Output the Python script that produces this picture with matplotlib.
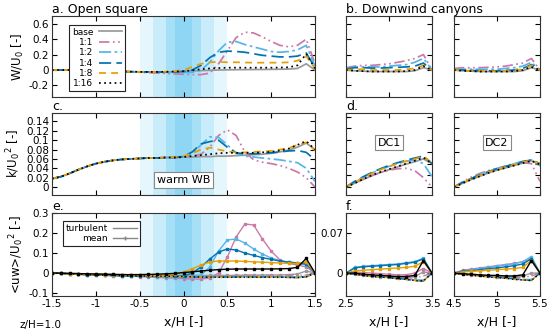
import matplotlib
matplotlib.use('Agg')

import matplotlib.pyplot as plt
from matplotlib.lines import Line2D
from matplotlib.ticker import FuncFormatter

plt.rcParams['font.family'] = ['DejaVu Sans']
plt.rcParams['axes.unicode_minus'] = False

# Cases and their styles
CASES = ['base', '1:1', '1:2', '1:4', '1:8', '1:16']

# x positions of the profiles
X_MAIN = [-1.5, -1.4, -1.3, -1.2, -1.1, -1.0, -0.9, -0.8, -0.7, -0.6, -0.5,
          -0.4, -0.3, -0.2, -0.1, 0.0, 0.1, 0.2, 0.3, 0.4, 0.5,
          0.6, 0.7, 0.8, 0.9, 1.0, 1.1, 1.2, 1.3, 1.4, 1.5]
X_DC1 = [2.5, 2.6, 2.7, 2.8, 2.9, 3.0, 3.1, 3.2, 3.3, 3.4, 3.5]
X_DC2 = [4.5, 4.6, 4.7, 4.8, 4.9, 5.0, 5.1, 5.2, 5.3, 5.4, 5.5]

# a. vertical velocity W/U0, open square
W_MAIN = {
    'base': [0.0, 0.0, 0.0, -0.005, -0.01, -0.012, -0.015, -0.018, -0.02, -0.022, -0.024,
             -0.025, -0.025, -0.025, -0.022, -0.018, -0.012, -0.008, -0.004, 0.0, 0.002,
             0.004, 0.005, 0.006, 0.007, 0.008, 0.01, 0.012, 0.02, 0.08, 0.0],
    '1:1': [0.0, 0.0, 0.0, -0.005, -0.01, -0.012, -0.015, -0.018, -0.02, -0.025, -0.03,
            -0.035, -0.04, -0.045, -0.05, -0.055, -0.06, -0.06, -0.04, 0.08, 0.25,
            0.42, 0.49, 0.48, 0.43, 0.37, 0.32, 0.30, 0.32, 0.40, 0.08],
    '1:2': [0.0, 0.0, 0.0, -0.005, -0.01, -0.012, -0.015, -0.018, -0.02, -0.022, -0.024,
            -0.026, -0.028, -0.03, -0.03, -0.03, -0.03, 0.0, 0.10, 0.25, 0.36,
            0.37, 0.33, 0.30, 0.27, 0.24, 0.23, 0.24, 0.26, 0.32, 0.05],
    '1:4': [0.0, 0.0, 0.0, -0.005, -0.01, -0.012, -0.015, -0.018, -0.02, -0.022, -0.024,
            -0.025, -0.026, -0.027, -0.025, -0.02, 0.0, 0.06, 0.16, 0.23, 0.245,
            0.24, 0.23, 0.21, 0.19, 0.18, 0.17, 0.17, 0.18, 0.22, 0.03],
    '1:8': [0.0, 0.0, 0.0, -0.005, -0.01, -0.012, -0.015, -0.018, -0.02, -0.022, -0.024,
            -0.025, -0.025, -0.022, -0.015, 0.0, 0.04, 0.08, 0.10, 0.105, 0.10,
            0.10, 0.097, 0.095, 0.095, 0.095, 0.095, 0.10, 0.12, 0.18, 0.02],
    '1:16': [0.0, 0.0, 0.0, -0.005, -0.01, -0.012, -0.015, -0.018, -0.02, -0.022, -0.024,
             -0.025, -0.025, -0.024, -0.02, -0.015, -0.005, 0.01, 0.02, 0.025, 0.03,
             0.03, 0.03, 0.03, 0.03, 0.03, 0.032, 0.035, 0.06, 0.21, 0.02],
}
W_DC1 = {
    'base': [0.0, -0.01, -0.015, -0.02, -0.02, -0.02, -0.02, -0.02, -0.01, 0.03, 0.0],
    '1:1': [0.03, 0.05, 0.06, 0.06, 0.07, 0.08, 0.10, 0.12, 0.15, 0.20, 0.0],
    '1:2': [0.02, 0.04, 0.04, 0.04, 0.04, 0.05, 0.06, 0.07, 0.10, 0.15, 0.0],
    '1:4': [0.01, 0.03, 0.03, 0.025, 0.025, 0.03, 0.035, 0.04, 0.05, 0.09, 0.0],
    '1:8': [0.0, 0.01, 0.01, 0.0, 0.0, 0.0, 0.0, 0.01, 0.02, 0.06, 0.0],
    '1:16': [0.0, -0.01, -0.015, -0.02, -0.02, -0.02, -0.02, -0.015, 0.0, 0.05, 0.0],
}
W_DC2 = {
    'base': [0.0, -0.01, -0.015, -0.02, -0.02, -0.02, -0.02, -0.02, -0.01, 0.03, 0.0],
    '1:1': [0.02, 0.03, 0.03, 0.03, 0.035, 0.04, 0.05, 0.07, 0.09, 0.15, 0.0],
    '1:2': [0.01, 0.01, 0.01, 0.01, 0.01, 0.01, 0.02, 0.03, 0.05, 0.10, 0.0],
    '1:4': [0.0, 0.0, -0.005, -0.01, -0.01, -0.01, -0.005, 0.0, 0.02, 0.07, 0.0],
    '1:8': [0.0, -0.005, -0.01, -0.01, -0.015, -0.015, -0.01, -0.005, 0.01, 0.06, 0.0],
    '1:16': [0.0, -0.01, -0.015, -0.02, -0.02, -0.02, -0.02, -0.015, 0.0, 0.04, 0.0],
}

# c. turbulent kinetic energy k/U0^2
K_MAIN = {
    'base': [0.018, 0.022, 0.029, 0.037, 0.044, 0.050, 0.054, 0.057, 0.059, 0.060, 0.061,
             0.062, 0.062, 0.063, 0.063, 0.064, 0.064, 0.065, 0.065, 0.066, 0.066,
             0.067, 0.068, 0.069, 0.070, 0.072, 0.075, 0.079, 0.085, 0.094, 0.080],
    '1:1': [0.018, 0.022, 0.029, 0.037, 0.044, 0.050, 0.054, 0.057, 0.059, 0.060, 0.061,
            0.062, 0.062, 0.063, 0.063, 0.064, 0.066, 0.070, 0.085, 0.110, 0.122,
            0.110, 0.075, 0.058, 0.053, 0.050, 0.046, 0.040, 0.032, 0.020, 0.0],
    '1:2': [0.018, 0.022, 0.029, 0.037, 0.044, 0.050, 0.054, 0.057, 0.059, 0.060, 0.061,
            0.062, 0.062, 0.063, 0.063, 0.064, 0.072, 0.090, 0.107, 0.106, 0.090,
            0.072, 0.066, 0.064, 0.062, 0.060, 0.058, 0.055, 0.052, 0.040, 0.012],
    '1:4': [0.018, 0.022, 0.029, 0.037, 0.044, 0.050, 0.054, 0.057, 0.059, 0.060, 0.061,
            0.062, 0.062, 0.063, 0.063, 0.065, 0.075, 0.092, 0.097, 0.100, 0.085,
            0.073, 0.071, 0.071, 0.072, 0.073, 0.075, 0.077, 0.078, 0.074, 0.058],
    '1:8': [0.018, 0.022, 0.029, 0.037, 0.044, 0.050, 0.054, 0.057, 0.059, 0.060, 0.061,
            0.062, 0.062, 0.063, 0.064, 0.066, 0.072, 0.080, 0.084, 0.080, 0.076,
            0.074, 0.074, 0.075, 0.076, 0.077, 0.080, 0.083, 0.090, 0.095, 0.078],
    '1:16': [0.018, 0.022, 0.029, 0.037, 0.044, 0.050, 0.054, 0.057, 0.059, 0.060, 0.061,
             0.062, 0.062, 0.063, 0.063, 0.064, 0.066, 0.068, 0.070, 0.072, 0.073,
             0.073, 0.073, 0.073, 0.074, 0.075, 0.078, 0.082, 0.090, 0.098, 0.080],
}
K_DC1 = {
    'base': [0.0, 0.008, 0.016, 0.024, 0.031, 0.037, 0.043, 0.049, 0.054, 0.060, 0.050],
    '1:1': [0.0, 0.010, 0.018, 0.025, 0.031, 0.036, 0.039, 0.040, 0.035, 0.020, 0.0],
    '1:2': [0.0, 0.011, 0.021, 0.030, 0.037, 0.044, 0.050, 0.055, 0.058, 0.050, 0.022],
    '1:4': [0.0, 0.012, 0.022, 0.031, 0.039, 0.046, 0.052, 0.057, 0.062, 0.066, 0.050],
    '1:8': [0.0, 0.010, 0.020, 0.029, 0.037, 0.044, 0.050, 0.055, 0.060, 0.065, 0.052],
    '1:16': [0.0, 0.008, 0.017, 0.025, 0.032, 0.038, 0.044, 0.050, 0.056, 0.063, 0.050],
}
K_DC2 = {
    'base': [0.0, 0.008, 0.016, 0.023, 0.030, 0.036, 0.041, 0.046, 0.051, 0.056, 0.048],
    '1:1': [0.0, 0.011, 0.021, 0.029, 0.035, 0.040, 0.044, 0.048, 0.052, 0.050, 0.012],
    '1:2': [0.0, 0.010, 0.019, 0.027, 0.034, 0.040, 0.045, 0.050, 0.055, 0.058, 0.045],
    '1:4': [0.0, 0.010, 0.018, 0.026, 0.033, 0.039, 0.044, 0.049, 0.054, 0.058, 0.050],
    '1:8': [0.0, 0.009, 0.017, 0.025, 0.032, 0.038, 0.043, 0.048, 0.053, 0.057, 0.050],
    '1:16': [0.0, 0.008, 0.016, 0.023, 0.030, 0.036, 0.041, 0.046, 0.051, 0.056, 0.048],
}

# e. momentum flux <uw>/U0^2, mean part
UW_MEAN_MAIN = {
    'base': [0.0, -0.001, -0.002, -0.003, -0.004, -0.005, -0.006, -0.007, -0.008, -0.009, -0.010,
             -0.010, -0.011, -0.011, -0.012, -0.012, -0.012, -0.012, -0.012, -0.012, -0.012,
             -0.012, -0.011, -0.011, -0.010, -0.010, -0.010, -0.008, -0.005, 0.010, 0.0],
    '1:1': [0.0, -0.002, -0.004, -0.006, -0.008, -0.010, -0.012, -0.014, -0.015, -0.016, -0.018,
            -0.020, -0.022, -0.024, -0.026, -0.028, -0.030, -0.030, -0.025, 0.0, 0.080,
            0.180, 0.245, 0.240, 0.170, 0.110, 0.065, 0.048, 0.040, 0.030, 0.0],
    '1:2': [0.0, -0.002, -0.004, -0.006, -0.008, -0.010, -0.012, -0.013, -0.014, -0.015, -0.016,
            -0.017, -0.018, -0.019, -0.020, -0.020, -0.020, -0.010, 0.030, 0.110, 0.165,
            0.170, 0.150, 0.120, 0.095, 0.075, 0.062, 0.053, 0.048, 0.040, 0.0],
    '1:4': [0.0, -0.002, -0.004, -0.006, -0.008, -0.010, -0.011, -0.012, -0.013, -0.014, -0.015,
            -0.016, -0.017, -0.017, -0.017, -0.015, 0.0, 0.030, 0.070, 0.105, 0.120,
            0.115, 0.100, 0.088, 0.077, 0.068, 0.060, 0.055, 0.050, 0.045, 0.0],
    '1:8': [0.0, -0.002, -0.004, -0.005, -0.006, -0.007, -0.008, -0.009, -0.010, -0.011, -0.012,
            -0.012, -0.011, -0.010, -0.005, 0.005, 0.020, 0.040, 0.055, 0.060, 0.060,
            0.060, 0.058, 0.056, 0.054, 0.052, 0.050, 0.048, 0.048, 0.055, 0.0],
    '1:16': [0.0, -0.001, -0.002, -0.003, -0.004, -0.005, -0.006, -0.007, -0.008, -0.008, -0.008,
             -0.007, -0.006, -0.004, -0.002, 0.002, 0.006, 0.010, 0.014, 0.017, 0.019,
             0.020, 0.020, 0.020, 0.020, 0.020, 0.021, 0.022, 0.028, 0.073, 0.0],
}
# e. momentum flux, turbulent part
UW_TURB_MAIN = {
    'base': [0.0, -0.002, -0.004, -0.006, -0.008, -0.010, -0.011, -0.012, -0.013, -0.014, -0.015,
             -0.015, -0.016, -0.016, -0.017, -0.017, -0.018, -0.018, -0.018, -0.018, -0.018,
             -0.018, -0.018, -0.018, -0.018, -0.018, -0.018, -0.019, -0.020, -0.018, 0.0],
    '1:1': [0.0, -0.002, -0.004, -0.006, -0.008, -0.010, -0.011, -0.012, -0.013, -0.014, -0.015,
            -0.015, -0.016, -0.016, -0.017, -0.017, -0.018, -0.019, -0.020, -0.018, -0.014,
            -0.012, -0.011, -0.011, -0.011, -0.012, -0.012, -0.012, -0.012, -0.010, 0.0],
    '1:2': [0.0, -0.002, -0.004, -0.006, -0.008, -0.010, -0.011, -0.012, -0.013, -0.014, -0.015,
            -0.015, -0.016, -0.016, -0.017, -0.018, -0.019, -0.020, -0.020, -0.019, -0.018,
            -0.017, -0.017, -0.017, -0.017, -0.018, -0.018, -0.019, -0.020, -0.016, 0.0],
    '1:4': [0.0, -0.002, -0.004, -0.006, -0.008, -0.010, -0.011, -0.012, -0.013, -0.014, -0.015,
            -0.015, -0.016, -0.016, -0.017, -0.018, -0.020, -0.021, -0.021, -0.021, -0.020,
            -0.020, -0.020, -0.020, -0.020, -0.021, -0.021, -0.022, -0.023, -0.020, 0.0],
    '1:8': [0.0, -0.002, -0.004, -0.006, -0.008, -0.010, -0.011, -0.012, -0.013, -0.014, -0.015,
            -0.015, -0.016, -0.016, -0.017, -0.018, -0.020, -0.021, -0.022, -0.022, -0.022,
            -0.022, -0.022, -0.022, -0.022, -0.022, -0.022, -0.023, -0.024, -0.020, 0.0],
    '1:16': [0.0, -0.002, -0.004, -0.006, -0.008, -0.010, -0.011, -0.012, -0.013, -0.014, -0.015,
             -0.015, -0.016, -0.016, -0.017, -0.018, -0.019, -0.020, -0.021, -0.021, -0.021,
             -0.021, -0.021, -0.021, -0.021, -0.021, -0.021, -0.022, -0.023, -0.019, 0.0],
}
UW_MEAN_DC1 = {
    'base': [0.0, -0.002, -0.004, -0.005, -0.006, -0.007, -0.008, -0.008, -0.006, 0.002, 0.0],
    '1:1': [0.0, 0.002, 0.001, 0.0, -0.001, -0.002, -0.003, -0.003, 0.0, 0.008, 0.0],
    '1:2': [0.0, 0.010, 0.012, 0.013, 0.014, 0.015, 0.016, 0.018, 0.020, 0.026, 0.0],
    '1:4': [0.0, 0.009, 0.011, 0.012, 0.013, 0.014, 0.015, 0.017, 0.019, 0.025, 0.0],
    '1:8': [0.0, 0.004, 0.005, 0.006, 0.007, 0.008, 0.009, 0.010, 0.012, 0.020, 0.0],
    '1:16': [0.0, 0.0, -0.002, -0.003, -0.004, -0.005, -0.006, -0.006, -0.004, 0.022, 0.0],
}
UW_TURB_DC1 = {
    'base': [0.0, -0.002, -0.004, -0.005, -0.006, -0.007, -0.008, -0.010, -0.012, -0.013, 0.0],
    '1:1': [0.0, -0.002, -0.003, -0.004, -0.005, -0.006, -0.007, -0.008, -0.009, -0.005, 0.0],
    '1:2': [0.0, -0.002, -0.004, -0.005, -0.006, -0.007, -0.009, -0.010, -0.012, -0.012, 0.0],
    '1:4': [0.0, -0.002, -0.004, -0.005, -0.007, -0.008, -0.009, -0.011, -0.013, -0.014, 0.0],
    '1:8': [0.0, -0.002, -0.004, -0.006, -0.007, -0.008, -0.010, -0.011, -0.013, -0.014, 0.0],
    '1:16': [0.0, -0.002, -0.004, -0.006, -0.007, -0.008, -0.010, -0.011, -0.013, -0.014, 0.0],
}
UW_MEAN_DC2 = {
    'base': [0.0, -0.002, -0.003, -0.004, -0.005, -0.006, -0.007, -0.007, -0.005, 0.0, 0.0],
    '1:1': [0.0, 0.005, 0.007, 0.009, 0.011, 0.013, 0.015, 0.017, 0.020, 0.025, 0.0],
    '1:2': [0.0, 0.004, 0.006, 0.008, 0.010, 0.012, 0.014, 0.016, 0.020, 0.029, 0.0],
    '1:4': [0.0, 0.003, 0.004, 0.006, 0.008, 0.009, 0.011, 0.013, 0.016, 0.025, 0.0],
    '1:8': [0.0, 0.002, 0.003, 0.004, 0.005, 0.006, 0.007, 0.008, 0.010, 0.022, 0.0],
    '1:16': [0.0, -0.001, -0.002, -0.003, -0.004, -0.004, -0.005, -0.005, -0.003, 0.022, 0.0],
}
UW_TURB_DC2 = {
    'base': [0.0, -0.002, -0.003, -0.005, -0.006, -0.007, -0.008, -0.010, -0.012, -0.012, 0.0],
    '1:1': [0.0, -0.001, -0.002, -0.003, -0.004, -0.005, -0.006, -0.007, -0.008, -0.005, 0.0],
    '1:2': [0.0, -0.002, -0.003, -0.004, -0.005, -0.006, -0.008, -0.009, -0.011, -0.011, 0.0],
    '1:4': [0.0, -0.002, -0.003, -0.005, -0.006, -0.007, -0.009, -0.010, -0.012, -0.013, 0.0],
    '1:8': [0.0, -0.002, -0.004, -0.005, -0.007, -0.008, -0.009, -0.011, -0.012, -0.013, 0.0],
    '1:16': [0.0, -0.002, -0.004, -0.005, -0.007, -0.008, -0.009, -0.011, -0.012, -0.013, 0.0],
}

# Warm wall band (x/H edges and shades)
BAND_EDGES = [-0.5, -0.35, -0.2, -0.1, 0.1, 0.2, 0.35, 0.5]
BAND_COLORS = ['#e6f6fd', '#c8ecfa', '#a6e0f6', '#8ed6f3', '#a6e0f6', '#c8ecfa', '#e6f6fd']

STYLE = {
    'base': dict(color='#999999', ls='-'),
    '1:1': dict(color='#cc79a7', ls=(0, (6, 2, 1, 2, 1, 2))),
    '1:2': dict(color='#56b4e9', ls=(0, (7, 2, 1.5, 2))),
    '1:4': dict(color='#0072b2', ls=(0, (7, 3))),
    '1:8': dict(color='#e69f00', ls=(0, (4, 3))),
    '1:16': dict(color='#000000', ls=(0, (1, 2))),
}

fmt = FuncFormatter(lambda v, _: f'{round(v, 6) + 0:g}')


def style_axis(ax, xlim, xticks, ylim, yticks, xlabels, ylabels):
    ax.set_xlim(*xlim)
    ax.set_ylim(*ylim)
    ax.set_xticks(xticks)
    ax.set_yticks(yticks)
    ax.xaxis.set_major_formatter(fmt)
    ax.yaxis.set_major_formatter(fmt)
    ax.tick_params(direction='in', top=True, right=True, length=3.5, width=0.8,
                   labelsize=7.5, pad=2, labelbottom=xlabels, labelleft=ylabels)
    for s in ax.spines.values():
        s.set_linewidth(0.8)
        s.set_color('#333333')


def shade(ax):
    for i, c in enumerate(BAND_COLORS):
        ax.axvspan(BAND_EDGES[i], BAND_EDGES[i + 1], color=c, lw=0, zorder=0)


fig = plt.figure(figsize=(5.5, 3.33), dpi=100)

left_main, w_main = 52 / 550, 263 / 550
left_dc1, left_dc2, w_dc = 346 / 550, 454 / 550, 86 / 550
rows = [(1 - 97 / 333, 81 / 333), (1 - 195 / 333, 82 / 333), (1 - 296 / 333, 83 / 333)]

W_LIM, K_LIM, UW_LIM, UW_DC_LIM = (-0.35, 0.7), (-0.017, 0.158), (-0.115, 0.3), (-0.04, 0.105)

axes = []
for r, (y0, h) in enumerate(rows):
    axm = fig.add_axes([left_main, y0, w_main, h])
    ax1 = fig.add_axes([left_dc1, y0, w_dc, h])
    ax2 = fig.add_axes([left_dc2, y0, w_dc, h])
    axes.append((axm, ax1, ax2))

LW = 1.25

# Row 1: W/U0
axm, ax1, ax2 = axes[0]
shade(axm)
for case in CASES:
    for ax, x, data in [(axm, X_MAIN, W_MAIN), (ax1, X_DC1, W_DC1), (ax2, X_DC2, W_DC2)]:
        ax.plot(x, data[case], lw=LW, label=case, **STYLE[case])
style_axis(axm, (-1.5, 1.5), [-1.5, -1, -0.5, 0, 0.5, 1, 1.5], W_LIM, [-0.2, 0, 0.2, 0.4, 0.6], False, True)
style_axis(ax1, (2.5, 3.5), [2.5, 3, 3.5], W_LIM, [-0.2, 0, 0.2, 0.4, 0.6], False, False)
style_axis(ax2, (4.5, 5.5), [4.5, 5, 5.5], W_LIM, [-0.2, 0, 0.2, 0.4, 0.6], False, False)
axm.set_ylabel(r'W/U$_0$ [-]', fontsize=8.5, labelpad=2)
axm.set_title('a. Open square', loc='left', fontsize=9, pad=2)
ax1.set_title('b. Downwind canyons', loc='left', fontsize=9, pad=2)
leg = axm.legend(loc='upper left', bbox_to_anchor=(0.065, 0.89), borderaxespad=0,
                 markerfirst=False, fontsize=6.5, handlelength=2.6, handletextpad=0.6,
                 labelspacing=0.15, borderpad=0.3, fancybox=False, framealpha=1)
leg.get_frame().set_edgecolor('#222222')
leg.get_frame().set_linewidth(0.8)

# Row 2: k/U0^2
axm, ax1, ax2 = axes[1]
shade(axm)
for case in CASES:
    for ax, x, data in [(axm, X_MAIN, K_MAIN), (ax1, X_DC1, K_DC1), (ax2, X_DC2, K_DC2)]:
        ax.plot(x, data[case], lw=LW, **STYLE[case])
k_ticks = [0, 0.02, 0.04, 0.06, 0.08, 0.1, 0.12, 0.14]
k_dc_ticks = [0, 0.025, 0.05, 0.075, 0.1, 0.125, 0.15]
style_axis(axm, (-1.5, 1.5), [-1.5, -1, -0.5, 0, 0.5, 1, 1.5], K_LIM, k_ticks, False, True)
style_axis(ax1, (2.5, 3.5), [2.5, 3, 3.5], K_LIM, k_dc_ticks, False, False)
style_axis(ax2, (4.5, 5.5), [4.5, 5, 5.5], K_LIM, k_dc_ticks, False, False)
axm.set_ylabel(r'k/U$_0$$^2$ [-]', fontsize=8.5, labelpad=2)
axm.set_title('c.', loc='left', fontsize=9, pad=2)
ax1.set_title('d.', loc='left', fontsize=9, pad=2)
box = dict(boxstyle='square,pad=0.25', fc='white', ec='#888888', lw=0.8)
axm.text(0.0, 0.015, 'warm WB', ha='center', va='center', fontsize=8, bbox=box)
ax1.text(3.0, 0.095, 'DC1', ha='center', va='center', fontsize=8, bbox=box)
ax2.text(5.0, 0.095, 'DC2', ha='center', va='center', fontsize=8, bbox=box)

# Row 3: <uw>/U0^2
axm, ax1, ax2 = axes[2]
shade(axm)
for case in CASES:
    st = STYLE[case]
    for ax, x, dm, dt in [(axm, X_MAIN, UW_MEAN_MAIN, UW_TURB_MAIN),
                          (ax1, X_DC1, UW_MEAN_DC1, UW_TURB_DC1),
                          (ax2, X_DC2, UW_MEAN_DC2, UW_TURB_DC2)]:
        ax.plot(x, dt[case], lw=1.0, color=st['color'], ls=st['ls'])
        ax.plot(x, dm[case], lw=1.0, color=st['color'], ls='-', marker='s', ms=1.8)
uw_dc_ticks = [0, 0.035, 0.07]
style_axis(axm, (-1.5, 1.5), [-1.5, -1, -0.5, 0, 0.5, 1, 1.5], UW_LIM, [-0.1, 0, 0.1, 0.2, 0.3], True, True)
style_axis(ax1, (2.5, 3.5), [2.5, 3, 3.5], UW_DC_LIM, uw_dc_ticks, True, True)
style_axis(ax2, (4.5, 5.5), [4.5, 5, 5.5], UW_DC_LIM, uw_dc_ticks, True, False)
ax1.set_yticklabels(['0', '', '0.07'])
axm.set_ylabel(r'<uw>/U$_0$$^2$ [-]', fontsize=8.5, labelpad=2)
axm.set_title('e.', loc='left', fontsize=9, pad=2)
ax1.set_title('f.', loc='left', fontsize=9, pad=2)
for ax in (axm, ax1, ax2):
    ax.set_xlabel('x/H [-]', fontsize=9, labelpad=5)
handles = [Line2D([], [], color='#888888', lw=1.0),
           Line2D([], [], color='#888888', lw=1.0, marker='+', ms=3)]
leg = axm.legend(handles, ['turbulent', 'mean'], loc='upper left', bbox_to_anchor=(0.042, 0.9),
                 borderaxespad=0, markerfirst=False, fontsize=6.5, handlelength=2.6,
                 handletextpad=0.6, labelspacing=0.15, borderpad=0.3, fancybox=False, framealpha=1)
leg.get_frame().set_edgecolor('#222222')
leg.get_frame().set_linewidth(0.8)

fig.text(20 / 550, 1 - 325 / 333, 'z/H=1.0', fontsize=7.5, va='center')

fig.savefig('out.png', dpi=100)
